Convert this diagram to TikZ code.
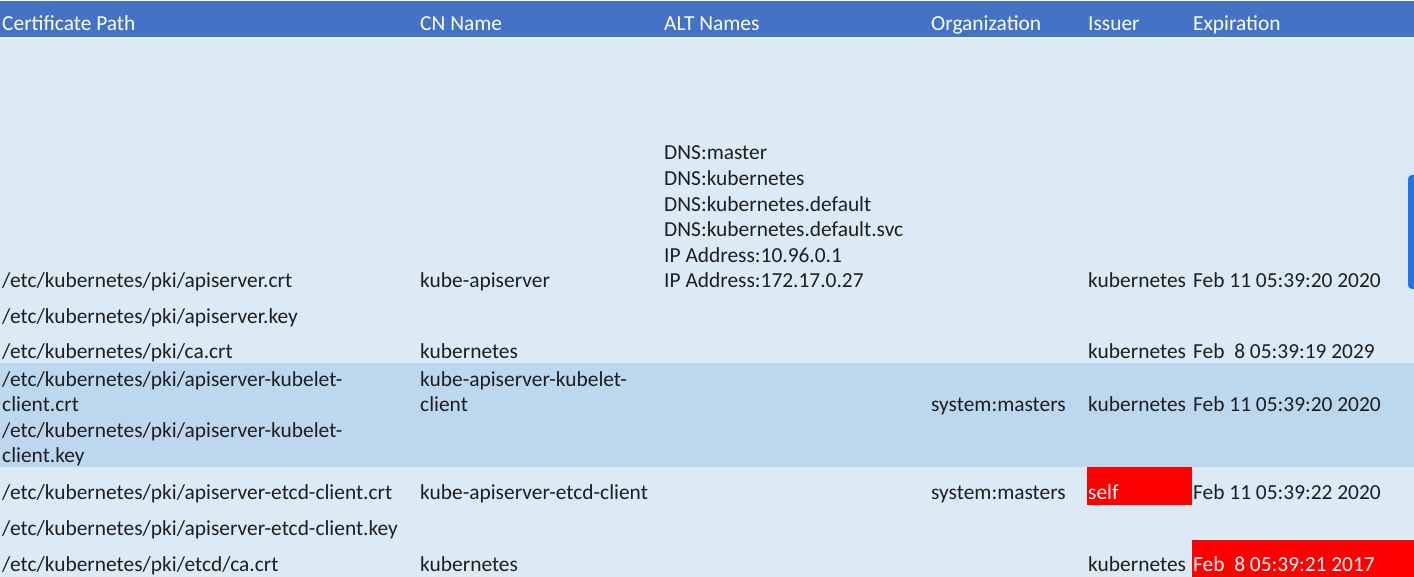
\documentclass[tikz,border=0pt]{standalone}
\usepackage{fontspec}
\newfontfamily\calf{Carlito}
\definecolor{hdrblue}{HTML}{4472C4}
\definecolor{bodylight}{HTML}{DCEAF6}
\definecolor{banddark}{HTML}{BDD7EE}
\definecolor{sepline}{HTML}{EAF2FA}
\definecolor{txtc}{HTML}{1E1E1E}
\definecolor{cellred}{HTML}{FF0000}
\definecolor{scrollblue}{HTML}{2272EA}
\tikzset{
  txt/.style={anchor=base west, inner sep=0pt, text=txtc, font=\calf\fontsize{21.4}{25.6}\selectfont},
  hdr/.style={txt, text=white},
  redtxt/.style={txt, text=white},
}
\begin{document}
\begin{tikzpicture}[x=1pt,y=-1pt]
\useasboundingbox (0,0) rectangle (1414,577);
\clip (0,0) rectangle (1414,577);
% backgrounds
\fill[white] (0,0) rectangle (1414,577);
\fill[hdrblue] (0,1.5) rectangle (1414,37);
\fill[sepline] (0,37) rectangle (1414,39.5);
\fill[bodylight] (0,39.5) rectangle (1414,577);
\fill[banddark] (0,363) rectangle (1414,467);
\fill[cellred] (1087,467) rectangle (1192,505);
\fill[cellred] (1192,540) rectangle (1414,577);
\fill[scrollblue, rounded corners=4pt] (1408,175) rectangle (1422,289);
% header
\node[hdr] (h1) at (2,31) {Certificate Path};
\node[hdr] (h2) at (420,31) {CN Name};
\node[hdr] (h3) at (664,31) {ALT Names};
\node[hdr] (h4) at (931,31) {Organization};
\node[hdr] (h5) at (1088,31) {Issuer};
\node[hdr] (h6) at (1193,31) {Expiration};
% ALT names
\node[txt] (alt1) at (664,160) {DNS:master};
\node[txt] (alt2) at (664,185.6) {DNS:kubernetes};
\node[txt] (alt3) at (664,211.2) {DNS:kubernetes.default};
\node[txt] (alt4) at (664,236.8) {DNS:kubernetes.default.svc};
\node[txt] (alt5) at (664,262.4) {IP Address:10.96.0.1};
\node[txt] (alt6) at (664,288) {IP Address:172.17.0.27};
% row apiserver.crt
\node[txt] (p1) at (2,288) {/etc/kubernetes/pki/apiserver.crt};
\node[txt] (cn1) at (420,288) {kube-apiserver};
\node[txt] (is1) at (1088,288) {kubernetes};
\node[txt] (ex1) at (1193,288) {Feb 11 05:39:20 2020};
% apiserver.key
\node[txt] (p2) at (2,323.5) {/etc/kubernetes/pki/apiserver.key};
% ca.crt
\node[txt] (p3) at (2,359) {/etc/kubernetes/pki/ca.crt};
\node[txt] (cn3) at (420,359) {kubernetes};
\node[txt] (is3) at (1088,359) {kubernetes};
\node[txt] (ex3) at (1193,359) {Feb\ \ 8 05:39:19 2029};
% kubelet client
\node[txt] (p4a) at (2,386) {/etc/kubernetes/pki/apiserver-kubelet-};
\node[txt] (p4b) at (2,411.6) {client.crt};
\node[txt] (p5a) at (2,437.2) {/etc/kubernetes/pki/apiserver-kubelet-};
\node[txt] (p5b) at (2,462.8) {client.key};
\node[txt] (cn4a) at (420,386) {kube-apiserver-kubelet-};
\node[txt] (cn4b) at (420,411.6) {client};
\node[txt] (or4) at (931,411.6) {system:masters};
\node[txt] (is4) at (1088,411.6) {kubernetes};
\node[txt] (ex4) at (1193,411.6) {Feb 11 05:39:20 2020};
% etcd client
\node[txt] (p6) at (2,499) {/etc/kubernetes/pki/apiserver-etcd-client.crt};
\node[txt] (cn6) at (420,499) {kube-apiserver-etcd-client};
\node[txt] (or6) at (931,499) {system:masters};
\node[redtxt] (is6) at (1088,499) {self};
\node[txt] (ex6) at (1193,499) {Feb 11 05:39:22 2020};
\node[txt] (p7) at (2,535) {/etc/kubernetes/pki/apiserver-etcd-client.key};
% etcd ca
\node[txt] (p8) at (2,571) {/etc/kubernetes/pki/etcd/ca.crt};
\node[txt] (cn8) at (420,571) {kubernetes};
\node[txt] (is8) at (1088,571) {kubernetes};
\node[redtxt] (ex8) at (1193,571) {Feb\ \ 8 05:39:21 2017};
\end{tikzpicture}
\end{document}
